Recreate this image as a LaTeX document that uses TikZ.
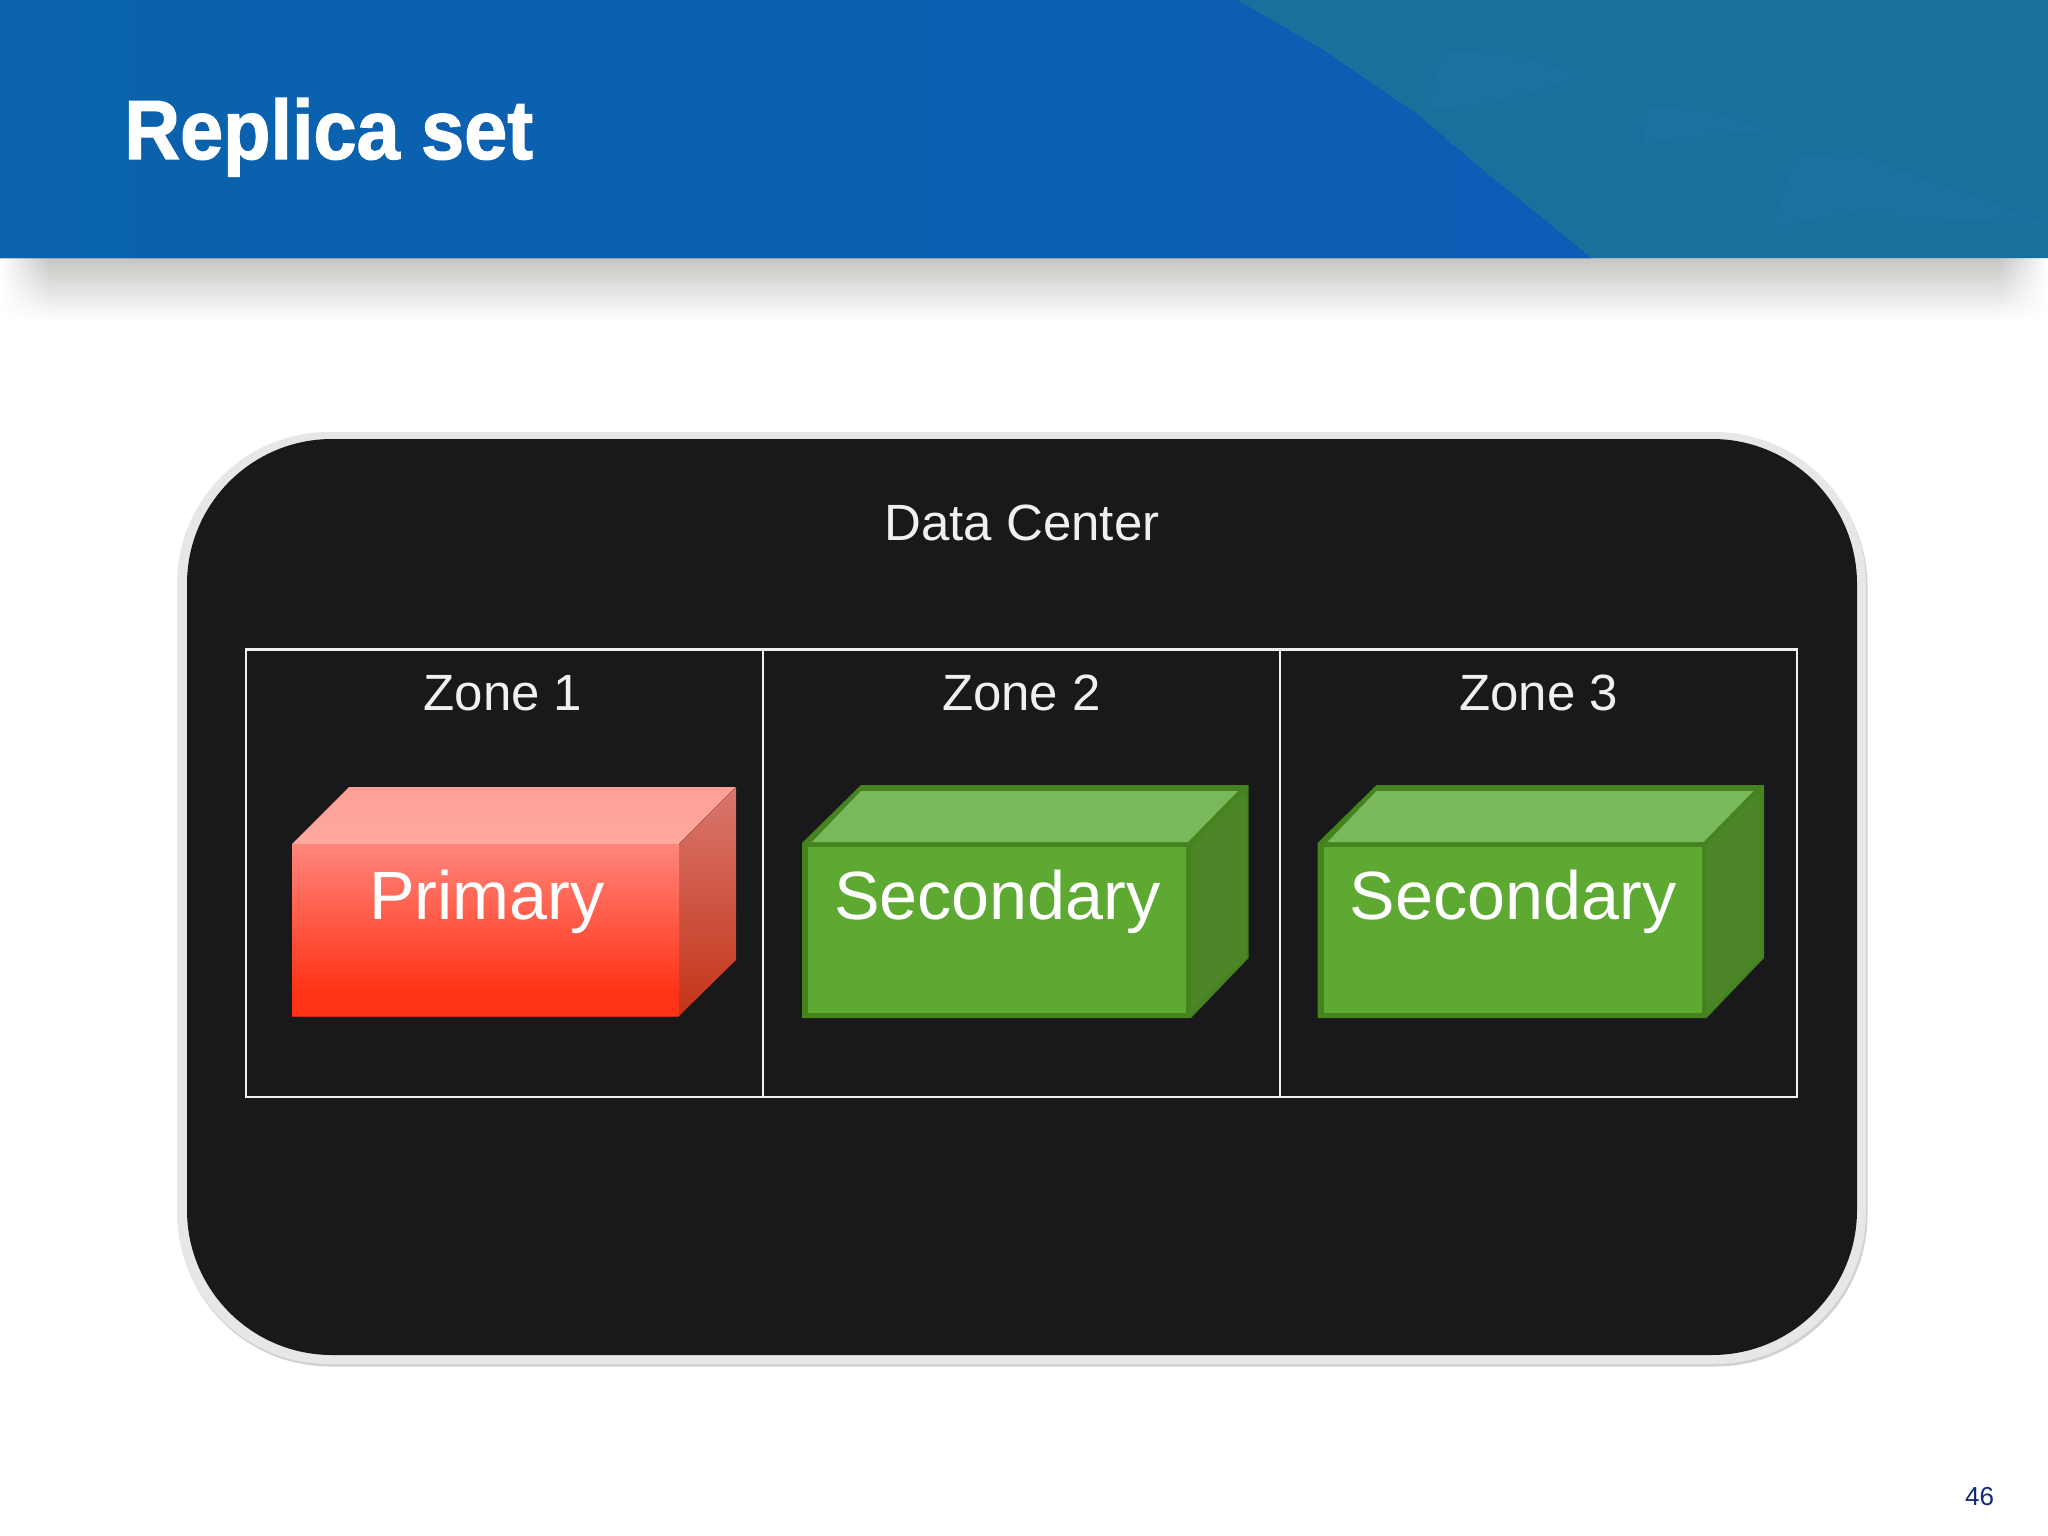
\documentclass[tikz,border=0pt]{standalone}
\usepackage{fontspec}
\setmainfont{Liberation Sans}
\newfontfamily\titlefont[FakeBold=1.6]{Liberation Sans Bold}
\definecolor{bannerL}{HTML}{0A63AC}
\definecolor{bannerR}{HTML}{0C5DB6}
\definecolor{teal}{HTML}{18709C}
\definecolor{tealhi}{HTML}{1A72A0}
\definecolor{shadowc}{HTML}{C6C5C2}
\definecolor{panel}{HTML}{19181B}
\definecolor{rimc}{HTML}{E8E6E9}
\definecolor{grfront}{HTML}{5DA932}
\definecolor{grtop}{HTML}{7AB85C}
\definecolor{grside}{HTML}{4B8527}
\definecolor{grline}{HTML}{44831E}
\definecolor{pagenum}{HTML}{14287A}
\definecolor{redtopA}{HTML}{FF9F95}
\definecolor{redtopB}{HTML}{FFA99F}
\definecolor{redsideA}{HTML}{D9776E}
\definecolor{redsideB}{HTML}{C43418}
\definecolor{redfrontA}{HTML}{FF857B}
\definecolor{redfrontB}{HTML}{FF3316}
\definecolor{redline}{HTML}{C8260C}
\tikzset{
  x=1pt,y=-1pt,
  zoneline/.style={draw=white!94!black,line width=2.6pt},
  zonelabel/.style={text=white!94!black,inner sep=0pt,anchor=base,font=\fontsize{51}{60}\selectfont},
  boxlabel/.style={text=white,inner sep=0pt,anchor=base west,font=\fontsize{68.3}{80}\selectfont},
}
\newcommand{\greenbox}[1]{%
  \begin{scope}[xshift=#1]
    \fill[grline] (802,843) -- (861,785) -- (1248.5,785) -- (1248.5,958) -- (1191,1018) -- (802,1018) -- cycle;
    \fill[grtop] (812,842) -- (861,791) -- (1238,791) -- (1188,842) -- cycle;
    \fill[grside] (1191,846) -- (1241,794) -- (1246,794) -- (1246,957) -- (1191,1012) -- cycle;
    \fill[grfront] (808,847) rectangle (1186,1013);
  \end{scope}}
\begin{document}
\begin{tikzpicture}
\useasboundingbox (0,0) rectangle (2048,1536);
\fill[white] (0,0) rectangle (2048,1536);
% banner shadow
\shade[top color=shadowc,bottom color=white] (50,258) rectangle (1998,321);
\foreach \i in {0,...,49}{
  \pgfmathtruncatemacro{\p}{\i*2}
  \shade[top color=shadowc!\p!white,bottom color=white] (\i,258) rectangle (\i+1.3,321);
  \shade[top color=shadowc!\p!white,bottom color=white] (2048-\i-1.3,258) rectangle (2048-\i,321);
}
% banner
\fill[left color=bannerL,right color=bannerR] (0,0) -- (1238,0) -- (1324,50) -- (1416,113) -- (1492,177) -- (1592,258) -- (0,258) -- cycle;
\fill[teal] (1238,0) -- (1324,50) -- (1416,113) -- (1492,177) -- (1592,258) -- (2048,258) -- (2048,0) -- cycle;
\fill[tealhi] (1427,110) -- (1443,50) -- (1524,57) -- (1584,77) -- (1492,103) -- cycle;
\fill[tealhi] (1643,143) -- (1649,107) -- (1719,113) -- (1768,130) -- (1687,137) -- cycle;
\fill[tealhi] (1773,227) -- (1795,157) -- (1849,153) -- (1957,190) -- (2048,225) -- (1849,213) -- cycle;
\node[anchor=base west,inner sep=0pt,text=white,font=\fontsize{84}{90}\titlefont,xscale=.922] (title) at (124,159) {Replica set};
% panel
\fill[black!18,rounded corners=152pt] (178,435) rectangle (1867.5,1366.5);
\fill[rimc,rounded corners=152pt] (177,432) rectangle (1866,1364);
\fill[panel,rounded corners=145pt] (187,439) rectangle (1857,1355);
\node[zonelabel] (dc) at (1022,540) {Data Center};
% zones
\draw[zoneline] (246,649.5) rectangle (1797,1097);
\draw[zoneline] (763,649.5) -- (763,1097);
\draw[zoneline] (1280,649.5) -- (1280,1097);
\node[zonelabel] (z1) at (503,710) {Zone 1};
\node[zonelabel] (z2) at (1021.5,710) {Zone 2};
\node[zonelabel] (z3) at (1538.5,710) {Zone 3};
% primary
\fill[top color=redtopA,bottom color=redtopB] (292,844) -- (349,787) -- (736,787) -- (679,844) -- cycle;
\fill[top color=redsideA,bottom color=redsideB] (679,844) -- (736,787) -- (736,960) -- (679,1016) -- cycle;
\fill[top color=redfrontA,bottom color=redfrontB] (292,844) rectangle (679,992);
\fill[redfrontB] (292,991) rectangle (679,1016);
\draw[redline,line width=1pt] (292,1016) -- (679,1016);
\node[boxlabel] (prim) at (369,919) {Primary};
% secondaries
\greenbox{0}
\greenbox{515.5}
\node[boxlabel] (sec1) at (834,919) {Secondary};
\node[boxlabel] (sec2) at (1349.5,919) {Secondary};
\node[anchor=base west,inner sep=0pt,text=pagenum,font=\fontsize{26}{30}\selectfont] (page) at (1965,1505) {46};
\end{tikzpicture}
\end{document}
